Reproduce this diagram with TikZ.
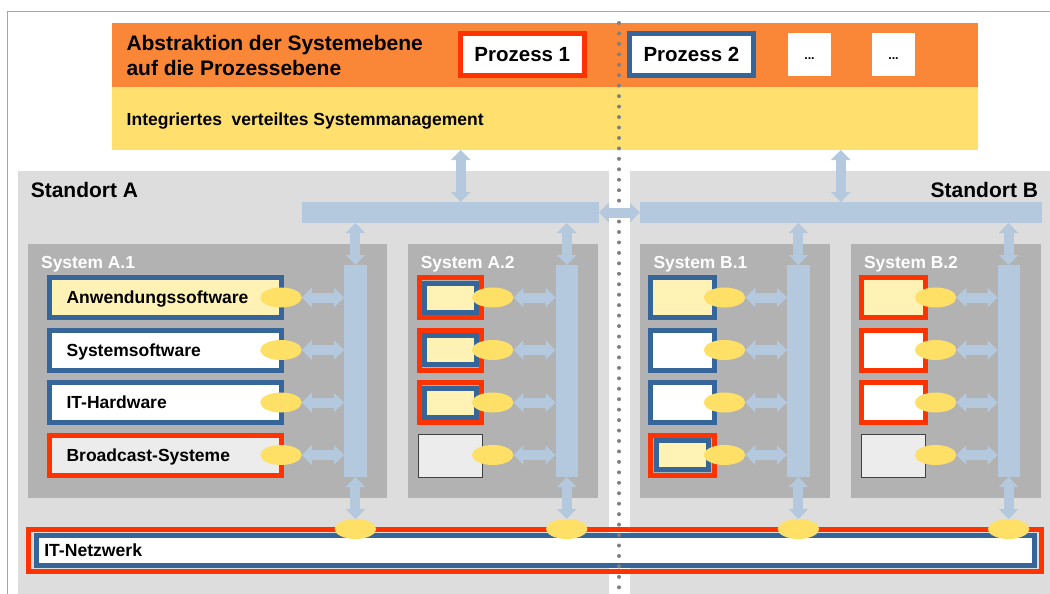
\documentclass[tikz,border=0pt]{standalone}
\usepackage{fontspec}
\setmainfont{Liberation Sans}
\usepackage{tikz}
\usetikzlibrary{arrows.meta, shapes.geometric}

\definecolor{orangeband}{RGB}{250,135,55}
\definecolor{mgmtyellow}{RGB}{255,224,110}
\definecolor{portyellow}{RGB}{255,224,102}
\definecolor{paleyellow}{RGB}{255,242,180}
\definecolor{sitegray}{RGB}{221,221,221}
\definecolor{sysgray}{RGB}{178,178,178}
\definecolor{busblue}{RGB}{180,200,222}
\definecolor{itred}{RGB}{255,51,0}
\definecolor{itblue}{RGB}{54,101,153}
\definecolor{palegray}{RGB}{236,236,236}

\tikzset{
  bigtext/.style={font=\fontsize{21}{24.5}\selectfont\bfseries},
  proztext/.style={font=\fontsize{20.5}{24}\selectfont\bfseries},
  midtext/.style={font=\fontsize{17.5}{20}\selectfont\bfseries},
  systext/.style={font=\fontsize{17.4}{20}\selectfont\bfseries, text=white},
  plain/.style={inner sep=0pt, outer sep=0pt},
  redframe/.style={plain, draw=itred, line width=5pt},
  blueframe/.style={plain, draw=itblue, line width=5pt},
  grayslot/.style={plain, draw=black!75, line width=0.8pt, fill=palegray,
    minimum width=64.4pt, minimum height=43pt},
  sysbox/.style={plain, fill=sysgray, minimum height=254pt},
  busbar/.style={plain, fill=busblue},
  port/.style={plain, ellipse, fill=portyellow, minimum width=41.5pt, minimum height=20pt},
  busarrow/.style={draw=busblue, line width=10pt, >={Triangle[width=19pt,length=10pt]}, <->},
  dotline/.style={draw=gray, line width=4pt, line cap=round, dash pattern=on 0pt off 10.45pt}
}

\begin{document}
\begin{tikzpicture}[x=1pt, y=-1pt]
\useasboundingbox (0,0) rectangle (1050,594);
\draw [gray!70, line width=1pt] (7,594) -- (7,12) -- (1050,12);

% Prozessebene
\node [plain, fill=orangeband, minimum width=866pt, minimum height=64pt] (abstr) at (545,55) {};
\node [plain, fill=mgmtyellow, minimum width=866pt, minimum height=63pt] (mgmt) at (545,118.5) {};
\node [bigtext, plain, anchor=north west, align=left] (abstrtext) at (126.5,35.4) {Abstraktion der Systemebene\\auf die Prozessebene};
\node [proztext, redframe, fill=white, minimum width=123.6pt, minimum height=42pt] (proz1) at (522.3,54.5) {Prozess 1};
\node [proztext, blueframe, fill=white, minimum width=123.5pt, minimum height=42pt] (proz2) at (691.4,54.5) {Prozess 2};
\node [plain, fill=white, minimum width=43pt, minimum height=43pt, text height=10pt, text depth=0pt, font=\fontsize{12.5}{14}\selectfont\bfseries] (proz3) at (809.5,54.5) {...};
\node [plain, fill=white, minimum width=43pt, minimum height=43pt, text height=10pt, text depth=0pt, font=\fontsize{12.5}{14}\selectfont\bfseries] (proz4) at (893.5,54.5) {...};
\node [plain, anchor=base west, font=\fontsize{17.5}{20}\selectfont\bfseries] (mgmttext) at (126.7,125) {Integriertes~ verteiltes Systemmanagement};

% Standorte
\node [plain, fill=sitegray, anchor=north west, minimum width=591pt, minimum height=423pt] (siteA) at (18,171) {};
\node [plain, fill=sitegray, anchor=north west, minimum width=420pt, minimum height=423pt] (siteB) at (630,171) {};
\node [bigtext, plain, anchor=base west] (siteAtext) at (30.8,197) {Standort A};
\node [bigtext, plain, anchor=base east] (siteBtext) at (1038,197) {Standort B};
\node [busbar, minimum width=297pt, minimum height=21pt] (busA) at (450.3,212.5) {};
\node [busbar, minimum width=401.6pt, minimum height=21pt] (busB) at (840.8,212.5) {};

% Systeme
\node [sysbox, minimum width=359pt] (sysA1) at (207.5,371) {};
\node [sysbox, minimum width=190pt] (sysA2) at (503,371) {};
\node [sysbox, minimum width=190pt] (sysB1) at (735,371) {};
\node [sysbox, minimum width=190pt] (sysB2) at (946,371) {};
\node [systext, plain, anchor=base west] (sysA1text) at (41.2,268) {System A.1};
\node [systext, plain, anchor=base west] (sysA2text) at (420.8,268) {System A.2};
\node [systext, plain, anchor=base west] (sysB1text) at (653.5,268) {System B.1};
\node [systext, plain, anchor=base west] (sysB2text) at (864.1,268) {System B.2};
\node [busbar, minimum width=22.6pt, minimum height=212pt] (barA1) at (355.4,371) {};
\node [busbar, minimum width=22.3pt, minimum height=212pt] (barA2) at (566.7,371) {};
\node [busbar, minimum width=22.7pt, minimum height=212pt] (barB1) at (798.4,371) {};
\node [busbar, minimum width=22pt, minimum height=212pt] (barB2) at (1008.6,371) {};

% System A.1
\node [blueframe, fill=paleyellow, minimum width=231.6pt, minimum height=40pt] (a1app) at (165.6,297.5) {};
\node [blueframe, fill=white, minimum width=231.6pt, minimum height=40pt] (a1sys) at (165.6,350) {};
\node [blueframe, fill=white, minimum width=231.6pt, minimum height=40pt] (a1hw) at (165.6,402.5) {};
\node [redframe, fill=palegray, minimum width=231.6pt, minimum height=40pt] (a1bc) at (165.6,455) {};
\node [midtext, plain, anchor=base west] (a1apptext) at (66.6,303.5) {Anwendungssoftware};
\node [midtext, plain, anchor=base west] (a1systext) at (66.6,356) {Systemsoftware};
\node [midtext, plain, anchor=base west] (a1hwtext) at (66.6,408.5) {IT-Hardware};
\node [midtext, plain, anchor=base west] (a1bctext) at (66.6,461) {Broadcast-Systeme};

% System A.2
\foreach \r/\y in {1/297.5, 2/350, 3/402.5} {
  \node [redframe, minimum width=62.6pt, minimum height=40pt] (a2out\r) at (450.6,\y) {};
  \node [blueframe, fill=paleyellow, minimum width=51.6pt, minimum height=29pt] (a2in\r) at (450.6,\y) {};
}
\node [grayslot] (a2bc) at (450.4,455.5) {};

% System B.1
\node [blueframe, fill=paleyellow, minimum width=63.3pt, minimum height=40pt] (b1app) at (682.5,297.5) {};
\node [blueframe, fill=white, minimum width=63.3pt, minimum height=40pt] (b1sys) at (682.5,350) {};
\node [blueframe, fill=white, minimum width=63.3pt, minimum height=40pt] (b1hw) at (682.5,402.5) {};
\node [redframe, minimum width=63.3pt, minimum height=40pt] (b1out) at (682.5,455) {};
\node [blueframe, fill=paleyellow, minimum width=52.3pt, minimum height=29pt] (b1in) at (682.5,455) {};

% System B.2
\node [redframe, fill=paleyellow, minimum width=63.6pt, minimum height=40pt] (b2app) at (893.3,297.5) {};
\node [redframe, fill=white, minimum width=63.6pt, minimum height=40pt] (b2sys) at (893.3,350) {};
\node [redframe, fill=white, minimum width=63.6pt, minimum height=40pt] (b2hw) at (893.3,402.5) {};
\node [grayslot] (b2bc) at (893.5,455.5) {};

% Schnittstellen zu den Systembussen
\foreach \s/\px in {A1/281, A2/492.7, B1/724.5, B2/935.6} {
  \foreach \r/\y in {1/297.5, 2/350, 3/402.5, 4/455} {
    \node [port] (p\s\r) at (\px,\y) {};
    \draw [busarrow] (p\s\r.east) -- (p\s\r.east -| bar\s.west);
  }
}

% IT-Netzwerk
\node [redframe, minimum width=1012.6pt, minimum height=42pt] (netout) at (534.8,550.5) {};
\node [blueframe, fill=white, minimum width=998.4pt, minimum height=30pt] (net) at (535.5,550.5) {};
\node [plain, anchor=west, font=\fontsize{17.6}{20}\selectfont\bfseries] (nettext) at (44.3,550.5) {IT-Netzwerk};
\node [port] (nA1) at (355.4,529) {};
\node [port] (nA2) at (566.7,529) {};
\node [port] (nB1) at (798.4,529) {};
\node [port] (nB2) at (1008.6,529) {};

% Verbindungen
\draw [busarrow] ([xshift=10.4pt]busA.north) -- ([xshift=10.4pt]busA.north |- mgmt.south);
\draw [busarrow] (busB.north) -- (busB.north |- mgmt.south);
\draw [busarrow] (barA1.north |- busA.south) -- (barA1.north);
\draw [busarrow] (barA2.north |- busA.south) -- (barA2.north);
\draw [busarrow] (barB1.north |- busB.south) -- (barB1.north);
\draw [busarrow] (barB2.north |- busB.south) -- (barB2.north);
\draw [busarrow] (barA1.south) -- (nA1.north);
\draw [busarrow] (barA2.south) -- (nA2.north);
\draw [busarrow] (barB1.south) -- (nB1.north);
\draw [busarrow] (barB2.south) -- (nB2.north);

% Trennlinie zwischen den Standorten
\draw [dotline] (619,23) -- (619,594);
\draw [busarrow] (busA.east) -- (busB.west);
\end{tikzpicture}
\end{document}
